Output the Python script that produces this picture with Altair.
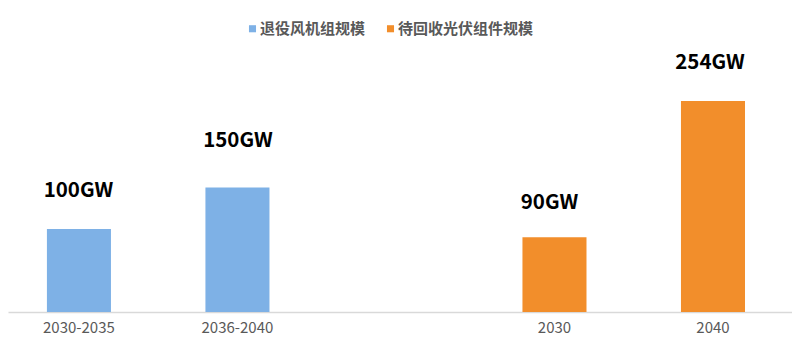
import altair as alt
import pandas as pd

cats = ["2030-2035", "2036-2040", "gap", "2030", "2040"]
vals = [100, 150, None, 90, 254]
labels = ["100GW", "150GW", "", "90GW", "254GW"]
series = ["退役风机组规模", "退役风机组规模", "", "待回收光伏组件规模", "待回收光伏组件规模"]
legend_names = ["退役风机组规模", "待回收光伏组件规模"]
legend_colors = ["#7EB1E6", "#F28E2B"]
label_shift = {"100GW": (-0.5, -38), "150GW": (0.5, -46), "90GW": (-5, -34), "254GW": (-3, -38)}

df = pd.DataFrame({"c": cats, "v": vals, "l": labels, "s": series})
df = df[df.v.notna()]
font = "Noto Sans CJK SC"
x = alt.X("c:N", sort=cats,
          scale=alt.Scale(domain=cats, paddingInner=0.596, paddingOuter=0.271, align=0.453),
          axis=alt.Axis(title=None, labelExpr="datum.label == 'gap' ? '' : datum.label", labelAngle=0, ticks=False,
                        domainColor="#D9D9D9", domainWidth=1.5, labelColor="#595959", labelFont=font,
                        labelFontSize=15, labelPadding=8))
y = alt.Y("v:Q", scale=alt.Scale(domain=[0, 366]), axis=None)
bars = alt.Chart(df).mark_bar().encode(
    x=x, y=y,
    color=alt.Color("s:N", scale=alt.Scale(domain=legend_names, range=legend_colors),
                    legend=alt.Legend(orient="none", legendX=237, legendY=13, direction="horizontal", title=None,
                                      symbolType="square", symbolSize=50, labelOffset=0,
                                      labelFont=font, labelFontSize=15,
                                      labelFontWeight="bold", labelColor="#595959", columnPadding=17, labelLimit=300)))
texts = [
    alt.Chart(df[df.l == name]).mark_text(dx=shift[0], dy=shift[1], font=font, fontSize=20.5, fontWeight="bold",
                                          color="#000000").encode(x=x, y=y, text="l:N")
    for name, shift in label_shift.items()
]
chart = alt.layer(bars, *texts).properties(width=784, height=304, padding=0).configure_view(stroke=None)
chart.save("out.html", embed_options={"renderer": "svg", "actions": False})
